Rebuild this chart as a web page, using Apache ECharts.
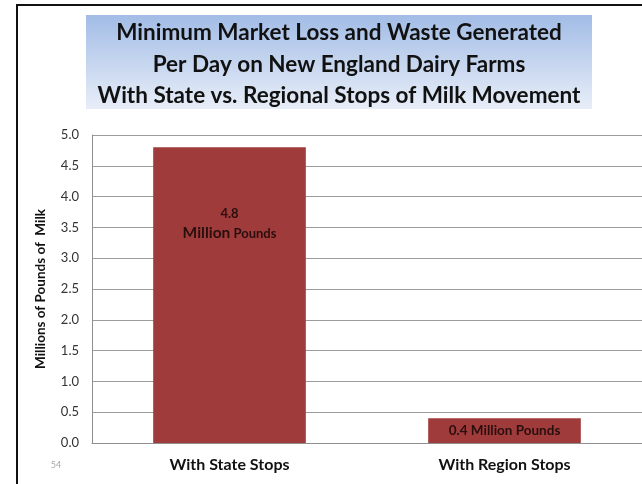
<!DOCTYPE html>
<html>
<head>
<meta charset="utf-8">
<script src="https://cdn.jsdelivr.net/npm/echarts@6/dist/echarts.min.js"></script>
<style>html,body{margin:0;padding:0;background:#fff}#c{width:642px;height:484px}</style>
</head>
<body>
<div id="c"></div>
<script>
const categories = ['With State Stops', 'With Region Stops'];
const values = [4.8, 0.4];
const yTicks = ['0.0','0.5','1.0','1.5','2.0','2.5','3.0','3.5','4.0','4.5','5.0'];
const titleLines = ['Minimum Market Loss and Waste Generated', 'Per Day on New England Dairy Farms', 'With State vs. Regional Stops of Milk Movement'];
const yName = 'Millions of Pounds of  Milk';
const pageNumber = '54';

const FONT = 'Lato, "Open Sans", sans-serif';
const chart = echarts.init(document.getElementById('c'));
chart.setOption({
  animation: false,
  textStyle: { fontFamily: FONT },
  grid: { left: 92, right: -1, top: 135, bottom: 41, containLabel: false },
  xAxis: {
    type: 'category',
    data: categories,
    axisLine: { lineStyle: { color: '#8f8f8f', width: 1 } },
    axisTick: { show: false },
    axisLabel: { margin: 14, color: '#111', fontSize: 16, fontWeight: 'bold', fontFamily: FONT }
  },
  yAxis: {
    type: 'value',
    min: 0, max: 5, interval: 0.5,
    name: yName,
    nameLocation: 'middle',
    nameGap: 44,
    nameTextStyle: { fontSize: 13.5, fontWeight: 'bold', color: '#111', fontFamily: FONT },
    axisLine: { show: true, lineStyle: { color: '#8f8f8f' } },
    axisTick: { show: false },
    splitLine: { lineStyle: { color: '#9c9c9c', width: 1 } },
    axisLabel: { margin: 13, color: '#333', fontSize: 13, fontFamily: FONT,
      formatter: (v) => yTicks[Math.round(v * 2)] }
  },
  series: [{
    type: 'bar',
    barWidth: '55.5%',
    itemStyle: { color: '#9f3c3b' },
    data: values.map((v, i) => ({
      value: v,
      label: i === 0 ? {
        show: true, position: 'insideTop', distance: 56,
        formatter: '{a|' + v.toFixed(1) + '}\n{b|Million} {c|Pounds}',
        rich: {
          a: { fontSize: 13, fontWeight: 'bold', color: '#2a0e0e', lineHeight: 20, fontFamily: FONT },
          b: { fontSize: 15.5, fontWeight: 'bold', color: '#2a0e0e', lineHeight: 20, fontFamily: FONT },
          c: { fontSize: 13, fontWeight: 'bold', color: '#2a0e0e', lineHeight: 20, fontFamily: FONT }
        }
      } : {
        show: true, position: 'inside',
        formatter: v.toFixed(1) + ' Million Pounds',
        fontSize: 13.5, fontWeight: 'bold', color: '#2a0e0e', fontFamily: FONT
      }
    }))
  }],
  graphic: [
    { type: 'rect', shape: { x: 86, y: 15, width: 506, height: 94 }, z: 0,
      style: { fill: new echarts.graphic.LinearGradient(0, 0, 0, 1, [
        { offset: 0, color: '#a2bce6' }, { offset: 1, color: '#e8eef8' }]) } },
    { type: 'text', x: 339, y: 33, z: 1,
      style: { text: titleLines[0], fill: '#111', font: 'bold 22.5px ' + FONT, textAlign: 'center', textVerticalAlign: 'middle' } },
    { type: 'text', x: 339, y: 64.5, z: 1,
      style: { text: titleLines[1], fill: '#111', font: 'bold 22.5px ' + FONT, textAlign: 'center', textVerticalAlign: 'middle' } },
    { type: 'text', x: 339, y: 96, z: 1,
      style: { text: titleLines[2], fill: '#111', font: 'bold 22.5px ' + FONT, textAlign: 'center', textVerticalAlign: 'middle' } },
    { type: 'text', x: 56, y: 465, z: 1,
      style: { text: pageNumber, fill: '#a8a8a8', font: '9px ' + FONT, textAlign: 'center', textVerticalAlign: 'middle' } },
    { type: 'line', z: 5, shape: { x1: 17, y1: 5, x2: 17, y2: 484 }, style: { stroke: '#111', lineWidth: 2 } },
    { type: 'line', z: 5, shape: { x1: 16, y1: 5, x2: 642, y2: 5 }, style: { stroke: '#111', lineWidth: 2 } }
  ]
});
</script>
</body>
</html>
